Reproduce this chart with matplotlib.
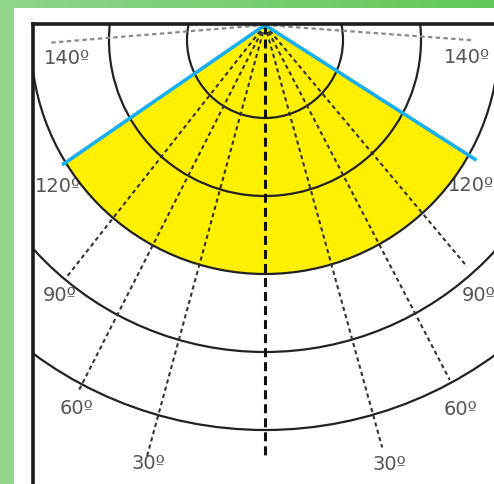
import numpy as np
import matplotlib
matplotlib.use("Agg")
import matplotlib.pyplot as plt
from matplotlib.patches import Polygon, Circle, Rectangle
from matplotlib.colors import LinearSegmentedColormap

# ---- data ----
beam_labels = ["30º", "60º", "90º", "120º", "140º"]
ring_levels = [1, 2, 3, 4, 5]
left_ray_deg = [15.3, 27.0, 38.2, 55.4, 85.3]
right_ray_deg = [15.5, 27.5, 39.9, 57.4, 85.8]
left_ray_len = [5.73, 5.26, 4.10, 3.16, 2.79]
right_ray_len = [5.62, 5.13, 4.04, 3.22, 2.66]
highlight_beam = "120º"
highlight_ring = 3

# label layout (angle from downward vertical, distance from apex)
left_lab_deg = [14.9, 26.1, 37.2, 52.0, 80.4]
left_lab_dist = [5.82, 5.48, 4.36, 3.37, 2.58]
right_lab_deg = [15.8, 27.0, 38.2, 52.0, 80.9]
right_lab_dist = [5.85, 5.53, 4.42, 3.35, 2.62]

# ---- figure / layout ----
W, H = 494, 484
U = 78.0            # pixels per ring unit
apex_px = (265, 25)
ring_center_off = 15 / U

plt.rcParams["lines.scale_dashes"] = False

fig = plt.figure(figsize=(W / 100, H / 100), dpi=100)
bg = fig.add_axes([0, 0, 1, 1])
bg.set_xlim(0, W)
bg.set_ylim(H, 0)
bg.axis("off")
grad = np.linspace(0, 1, 256)[None, :]
gcmap = LinearSegmentedColormap.from_list("g", ["#8fd58b", "#62c858"])
bg.imshow(grad, cmap=gcmap, extent=(0, W, 8, 0), aspect="auto", zorder=1)
bg.add_patch(Rectangle((0, 0), 14, H, color="#8fd58b", zorder=2, lw=0))

fl, ft = 33, 23.5
far = 620
ax = fig.add_axes([fl / W, 1 - far / H, (far - fl) / W, (far - ft) / H])
ax.set_xlim((fl - apex_px[0]) / U, (far - apex_px[0]) / U)
ax.set_ylim((far - apex_px[1]) / U, (ft - apex_px[1]) / U)
ax.set_xticks([])
ax.set_yticks([])
for s in ["right", "bottom"]:
    ax.spines[s].set_visible(False)
for s in ["left", "top"]:
    ax.spines[s].set_linewidth(2.6)
    ax.spines[s].set_color("#1c1c1c")
    ax.spines[s].set_zorder(10)


def ray_point(deg, t, side):
    th = np.radians(deg)
    return side * t * np.sin(th), t * np.cos(th)


def circle_hit(deg, R):
    th = np.radians(deg)
    d = ring_center_off
    return d * np.cos(th) + np.sqrt(R ** 2 - (d * np.sin(th)) ** 2)


# yellow sector
hi = beam_labels.index(highlight_beam)
R = highlight_ring
tl = circle_hit(left_ray_deg[hi], R)
tr = circle_hit(right_ray_deg[hi], R)
pl = ray_point(left_ray_deg[hi], tl, -1)
pr = ray_point(right_ray_deg[hi], tr, 1)
phl = np.arctan2(pl[0], pl[1] - ring_center_off)
phr = np.arctan2(pr[0], pr[1] - ring_center_off)
phis = np.linspace(phl, phr, 200)
arc = np.column_stack([R * np.sin(phis), ring_center_off + R * np.cos(phis)])
poly = np.vstack([[0, 0], arc, [0, 0]])
ax.add_patch(Polygon(poly, closed=True, facecolor="#fff000", edgecolor="none", zorder=1))

# rings
for r in ring_levels:
    ax.add_patch(Circle((0, ring_center_off), r, fill=False, edgecolor="#222222",
                        lw=1.6, zorder=3))

# rays
for side, degs, lens in [(-1, left_ray_deg, left_ray_len), (1, right_ray_deg, right_ray_len)]:
    for i, (dg, ln) in enumerate(zip(degs, lens)):
        x1, y1 = ray_point(dg, ln, side)
        if i == hi:
            ax.plot([0, x1], [0, y1], color="#19aff0", lw=2.6, solid_capstyle="butt", zorder=6)
        elif i == len(degs) - 1:
            ax.plot([0, x1], [0, y1], color="#8a8a8a", lw=1.6, dashes=(3.2, 2.4), zorder=4)
        else:
            ax.plot([0, x1], [0, y1], color="#333333", lw=1.5, dashes=(3.0, 2.4), zorder=4)

# central axis
ax.plot([0, 0], [0, 5.54], color="#111111", lw=2.2, dashes=(6.5, 3.6), zorder=5)

# labels
for side, degs, dists in [(-1, left_lab_deg, left_lab_dist), (1, right_lab_deg, right_lab_dist)]:
    for lab, dg, ds in zip(beam_labels, degs, dists):
        x, y = ray_point(dg, ds, side)
        ax.text(x, y, lab, ha="center", va="center", fontsize=14, color="#555555",
                family="DejaVu Sans", zorder=0.5, clip_on=False)

fig.savefig("out.png", dpi=100)
